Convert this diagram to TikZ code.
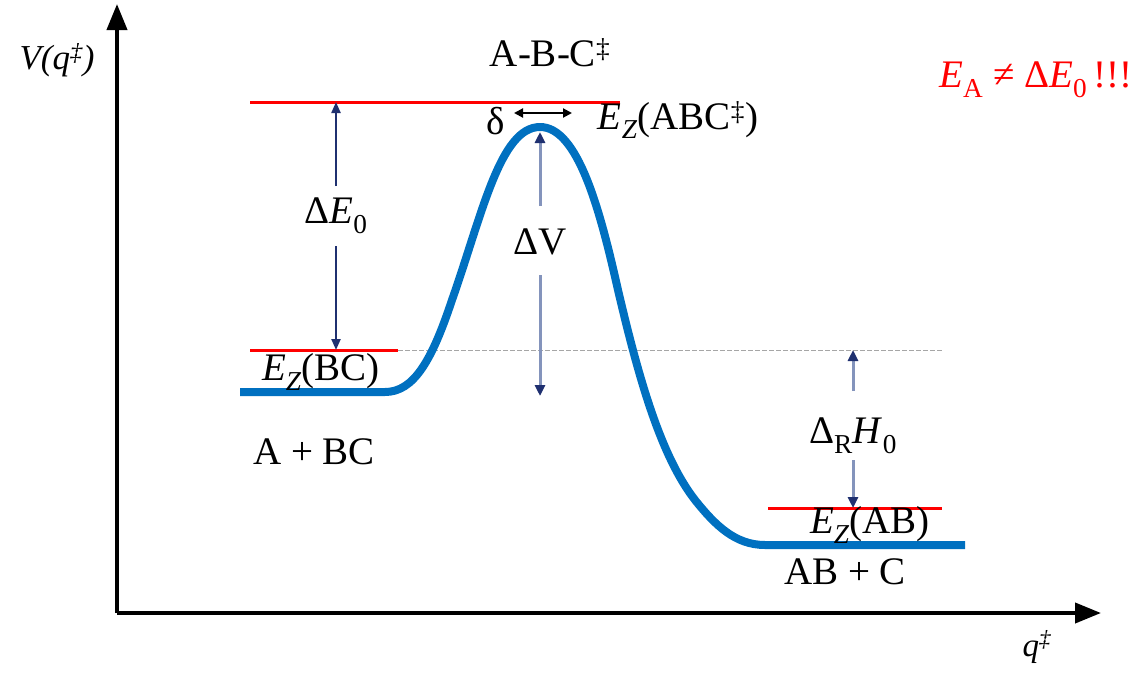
\documentclass[tikz,border=0pt]{standalone}
\usepackage{fontspec}
\setmainfont{Liberation Serif}
\usetikzlibrary{arrows.meta}
\definecolor{curveblue}{HTML}{0070C0}
\definecolor{navy}{HTML}{1F3070}
\definecolor{steel}{HTML}{8494BC}
\definecolor{lvlred}{HTML}{FF0000}
\begin{document}
\begin{tikzpicture}[x=1pt,y=-1pt,
  lbl/.style={font=\fontsize{39}{42}\selectfont, inner sep=0pt},
  axisline/.style={line width=4pt, -{Triangle[length=26pt,width=20pt]}},
  level/.style={draw=lvlred, line width=3pt},
  pes/.style={draw=curveblue, line width=8pt, line join=round},
  navyarrow/.style={draw=navy, line width=2.2pt, -{Triangle[length=11pt,width=9pt]}},
  lightarrow/.style={draw=steel, line width=3pt, -{Triangle[length=11pt,width=10pt,color=navy]}},
  refline/.style={draw=gray!70, line width=0.8pt, dash pattern=on 5pt off 2pt}]
\useasboundingbox (0,0) rectangle (1137,672);

% axes
\coordinate (origin) at (117,613);
\coordinate (ytip) at (117,4);
\coordinate (xtip) at (1101,613);
\draw[axisline] (origin) -- (ytip);
\draw[axisline] (origin) -- (xtip);
\node[font=\fontsize{35}{38}\selectfont\itshape, inner sep=0pt] (ylab) at (57,60) {V(q\textsuperscript{‡})};
\node[font=\fontsize{33}{36}\selectfont\itshape, inner sep=0pt] (xlab) at (1037,647) {q\textsuperscript{‡}};

% levels
\coordinate (ts1) at (250,102);
\coordinate (ts2) at (620,102);
\coordinate (bc1) at (250,350);
\coordinate (bc2) at (398,350);
\coordinate (ab1) at (768,508);
\coordinate (ab2) at (942,508);
\draw[refline] (bc2) -- (ab2 |- bc2);
\draw[level] (ts1) -- (ts2);
\draw[level] (bc1) -- (bc2);
\draw[level] (ab1) -- (ab2);

% potential energy curve
\draw[pes] (240,392) -- (385,392)
  .. controls (414,392) and (432,360) .. (452,300)
  .. controls (482,215) and (500,127) .. (540,127)
  .. controls (578,127) and (600,210) .. (618,290)
  .. controls (638,375) and (660,455) .. (695,500)
  .. controls (715,525) and (735,545) .. (765,545) -- (965,545);

% labels
\node[lbl] (abc) at (550,53) {A-B-C\textsuperscript{‡}};
\node[lbl] (delta) at (496,121) {δ};
\node[lbl] (ezabc) at (678,120) {\textit{E}\textsubscript{\textit{Z}}(ABC\textsuperscript{‡})};
\coordinate (d1) at (514,113);
\coordinate (d2) at (572,113);
\draw[line width=2pt, {Triangle[length=9pt,width=9pt]}-{Triangle[length=9pt,width=9pt]}] (d1) -- (d2);
\node[lbl] (ezbc) at (321,372) {\textit{E}\textsubscript{\textit{Z}}(BC)};
\node[lbl] (abc0) at (314,452) {A + BC};
\node[lbl] (ezab) at (870,525) {\textit{E}\textsubscript{\textit{Z}}(AB)};
\node[lbl] (abc1) at (845,572) {AB + C};
\node[lbl, text=lvlred] (ea) at (1036,80) {\textit{E}\textsubscript{A} ≠ Δ\textit{E}\textsubscript{0}\,!!!};

% Delta E0
\node[lbl] (de0) at (336,216) {Δ\textit{E}\textsubscript{0}};
\coordinate (de0a) at (336,186);
\coordinate (de0b) at (336,246);
\coordinate (de0top) at (336,102);
\coordinate (de0bot) at (336,350);
\draw[navyarrow] (de0a) -- (de0top);
\draw[navyarrow] (de0b) -- (de0bot);

% Delta V
\node[lbl] (dv) at (540,242) {ΔV};
\coordinate (dva) at (540,206);
\coordinate (dvb) at (540,275);
\coordinate (dvtop) at (540,132);
\coordinate (dvbot) at (540,396);
\draw[lightarrow] (dva) -- (dvtop);
\draw[lightarrow] (dvb) -- (dvbot);

% Delta_R H0
\node[lbl] (drh) at (853,436) {Δ\textsubscript{R}\textit{H}\textsubscript{0}};
\coordinate (drha) at (853,391);
\coordinate (drhb) at (853,460);
\coordinate (drhtop) at (853,350);
\coordinate (drhbot) at (853,508);
\draw[lightarrow] (drha) -- (drhtop);
\draw[lightarrow] (drhb) -- (drhbot);
\end{tikzpicture}
\end{document}
